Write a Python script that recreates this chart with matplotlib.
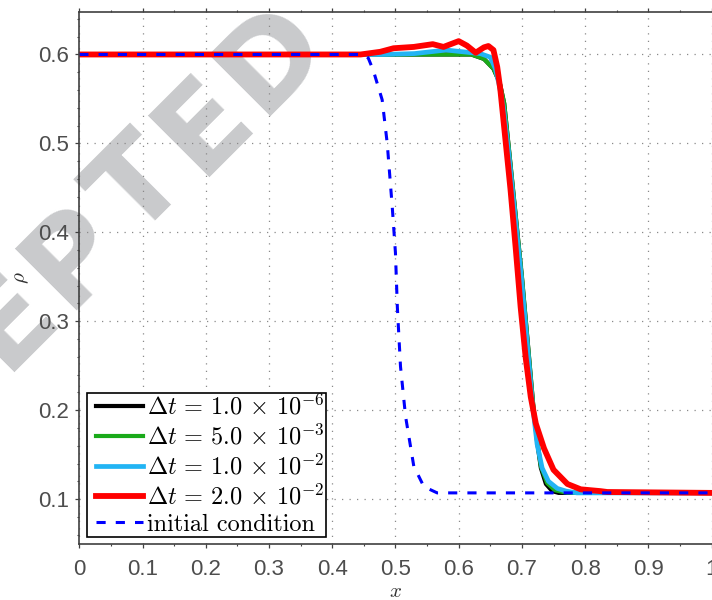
import matplotlib
matplotlib.use("Agg")
import matplotlib.pyplot as plt
import numpy as np
from matplotlib.legend_handler import HandlerLine2D
from matplotlib.lines import Line2D
from matplotlib.ticker import MultipleLocator

plt.rcParams['mathtext.fontset'] = 'cm'
plt.rcParams['font.family'] = ['Liberation Sans', 'DejaVu Sans']

# curves
x_dt1 = [0.0, 0.55, 0.62, 0.64, 0.655, 0.665, 0.672, 0.680, 0.690, 0.700, 0.710, 0.718,
         0.724, 0.730, 0.738, 0.748, 0.758, 1.0]
rho_dt1 = [0.6, 0.6, 0.6, 0.595, 0.584, 0.568, 0.545, 0.49, 0.42, 0.35, 0.27, 0.205,
           0.165, 0.135, 0.117, 0.109, 0.107, 0.107]

x_dt2 = [0.0, 0.55, 0.62, 0.64, 0.655, 0.665, 0.672, 0.680, 0.690, 0.700, 0.710, 0.718,
         0.724, 0.730, 0.740, 0.752, 0.772, 1.0]
rho_dt2 = [0.6, 0.6, 0.6, 0.595, 0.584, 0.568, 0.545, 0.49, 0.42, 0.35, 0.27, 0.205,
           0.167, 0.137, 0.118, 0.110, 0.107, 0.107]

x_dt3 = [0.0, 0.48, 0.53, 0.58, 0.634, 0.650, 0.658, 0.664, 0.671, 0.679, 0.689, 0.699,
         0.709, 0.717, 0.724, 0.732, 0.742, 0.756, 0.770, 0.787, 1.0]
rho_dt3 = [0.6, 0.6, 0.601, 0.605, 0.601, 0.597, 0.584, 0.566, 0.54, 0.49, 0.42, 0.35,
           0.27, 0.205, 0.162, 0.135, 0.12, 0.112, 0.109, 0.107, 0.107]

x_dt4 = [0.0, 0.445, 0.476, 0.497, 0.529, 0.559, 0.576, 0.600, 0.613, 0.627, 0.640, 0.647,
         0.655, 0.661, 0.666, 0.674, 0.682, 0.690, 0.698, 0.706, 0.714, 0.722, 0.735, 0.750,
         0.772, 0.793, 0.824, 0.835, 1.0]
rho_dt4 = [0.6, 0.6, 0.603, 0.607, 0.6085, 0.6116, 0.6085, 0.615, 0.610, 0.602, 0.608, 0.6095,
           0.605, 0.586, 0.56, 0.504, 0.448, 0.384, 0.316, 0.259, 0.215, 0.185, 0.157, 0.133,
           0.117, 0.111, 0.109, 0.108, 0.107]

x_init = [0.0, 0.45, 0.457, 0.465, 0.479, 0.487, 0.495, 0.500, 0.503, 0.508, 0.516, 0.529,
          0.545, 0.566, 1.0]
rho_init = [0.6, 0.6, 0.596, 0.582, 0.549, 0.50, 0.428, 0.377, 0.316, 0.249, 0.193, 0.137,
            0.114, 0.107, 0.107]

labels = [r'$\Delta t\,=\,1.0\,\times\,10^{-6}\;$', r'$\Delta t\,=\,5.0\,\times\,10^{-3}\;$',
          r'$\Delta t\,=\,1.0\,\times\,10^{-2}\;$', r'$\Delta t\,=\,2.0\,\times\,10^{-2}\;$',
          'initial condition']
colors = ['black', '#1aaa1a', '#22b4f4', '#ff0000', '#0000ff']

watermark = 'ACCEPTED'

fig = plt.figure(figsize=(7.12, 6.0), dpi=100)
ax = fig.add_axes([0.1114, 0.0933, 0.888, 0.8872])

ax.plot(x_dt1, rho_dt1, color=colors[0], lw=3.0, label=labels[0], zorder=2)
ax.plot(x_dt2, rho_dt2, color=colors[1], lw=3.0, label=labels[1], zorder=2.1)
ax.plot(x_dt3, rho_dt3, color=colors[2], lw=3.4, label=labels[2], zorder=2.2)
ax.plot(x_dt4, rho_dt4, color=colors[3], lw=4.2, label=labels[3], zorder=2.3)
ax.plot(x_init, rho_init, color=colors[4], lw=2.2, dashes=(3, 3.3), label=labels[4], zorder=2.4)

# watermark, one letter at a time along a 45 degree line (pixel offsets from the 2nd E)
offsets = [-565, -470, -372, -276, -185, -91, 0, 95]
base = np.array([204.5, 125.0])
u = np.array([1.0, -1.0]) / np.sqrt(2)
for ch, s in zip(watermark, offsets):
    px, py = base + s * u
    fig.text(px / 712, 1 - py / 600, ch, rotation=45, rotation_mode='anchor',
             ha='center', va='center', fontsize=86, family='DejaVu Sans',
             fontweight='bold', color='#c9cacc', zorder=-1)

ax.set_xlim(0, 1)
ax.set_ylim(0.0495, 0.6481)
ax.xaxis.set_minor_locator(MultipleLocator(0.05))
ax.yaxis.set_minor_locator(MultipleLocator(0.02))
ax.set_xticks([0, 0.1, 0.2, 0.3, 0.4, 0.5, 0.6, 0.7, 0.8, 0.9, 1.0])
ax.set_xticklabels(['0', '0.1', '0.2', '0.3', '0.4', '0.5', '0.6', '0.7', '0.8', '0.9', '1'])
ax.set_yticks([0.1, 0.2, 0.3, 0.4, 0.5, 0.6])
ax.set_yticklabels(['0.1', '0.2', '0.3', '0.4', '0.5', '0.6'])

ax.patch.set_alpha(0)
ax.grid(True, which='major', linestyle=(0, (1, 5)), color='#8a8a8a', lw=0.9)

for side in ['left', 'bottom', 'top']:
    ax.spines[side].set_color('#404040')
    ax.spines[side].set_linewidth(1.2)
ax.spines['right'].set_visible(False)

ax.tick_params(axis='both', which='both', direction='out', color='#404040',
               labelcolor='#4d4d4d', labelsize=16)
ax.tick_params(which='major', length=3, width=0.9)
ax.tick_params(which='minor', length=1.6, width=0.8)
ax.tick_params(axis='x', which='both', top=True, pad=8)
ax.tick_params(axis='y', which='both', pad=4.5)
ax.set_axisbelow(True)

ax.set_xlabel(r'$x$', fontsize=15, color='#333333', labelpad=1)
ax.set_ylabel(r'$\rho$', fontsize=15, color='#333333', labelpad=5)

leg = ax.legend(loc='lower left', fontsize=17.5, handlelength=2.25, handletextpad=0.2,
                borderpad=0.05, labelspacing=0.18, borderaxespad=0.3, fancybox=False,
                framealpha=1, edgecolor='black',
                handler_map={Line2D: HandlerLine2D(xpad=0.32)})
leg.get_frame().set_linewidth(1.2)
leg.get_texts()[4].set_family('cmr10')
leg.set_zorder(5)

fig.savefig('out.png', dpi=100)
